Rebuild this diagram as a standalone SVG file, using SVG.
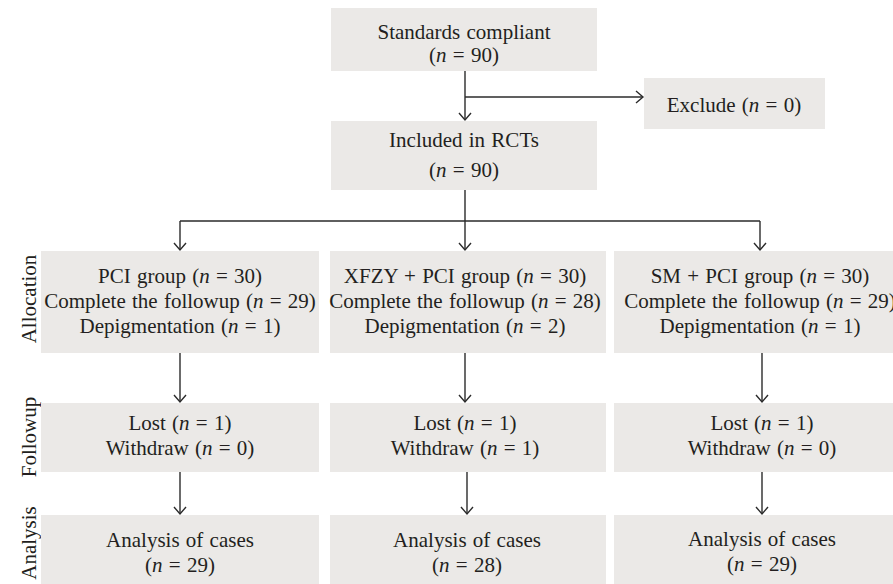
<svg xmlns="http://www.w3.org/2000/svg" width="893" height="584" viewBox="0 0 893 584">
<style>
.box{fill:#ebe9e7}
.t{font-family:"Liberation Serif","Times New Roman",serif;font-size:21px;fill:#231f20;text-anchor:middle;word-spacing:1px}
.i{font-style:italic}
.c{fill:none;stroke:#2b2b2b;stroke-width:1.4}
</style>
<defs>
<marker id="a" markerUnits="userSpaceOnUse" markerWidth="16" markerHeight="16" refX="0" refY="0" viewBox="-9 -8 10 16" orient="auto">
<path d="M-7,-6 L0,0 L-7,6" fill="none" stroke="#2b2b2b" stroke-width="1.4"/>
</marker>
</defs>
<rect width="893" height="584" fill="#fff"/>
<g id="labels">
<text class="t" transform="translate(36,299) rotate(-90)">Allocation</text>
<text class="t" transform="translate(36,437) rotate(-90)">Followup</text>
<text class="t" transform="translate(36,543) rotate(-90)">Analysis</text>
</g>
<g id="n-standards"><rect class="box" x="331" y="8" width="266" height="63"/>
<text class="t" x="464" y="39">Standards compliant</text>
<text class="t" x="464" y="62">(<tspan class="i">n</tspan> = 90)</text></g>
<g id="n-exclude"><rect class="box" x="644" y="78" width="181" height="51"/>
<text class="t" x="734" y="112">Exclude (<tspan class="i">n</tspan> = 0)</text></g>
<g id="n-included"><rect class="box" x="331" y="121" width="266" height="69"/>
<text class="t" x="464" y="147">Included in RCTs</text>
<text class="t" x="464" y="177">(<tspan class="i">n</tspan> = 90)</text></g>
<g id="n-pci"><rect class="box" x="41" y="251" width="278" height="102"/>
<text class="t" x="180" y="283">PCI group (<tspan class="i">n</tspan> = 30)</text>
<text class="t" x="180" y="308">Complete the followup (<tspan class="i">n</tspan> = 29)</text>
<text class="t" x="180" y="333">Depigmentation (<tspan class="i">n</tspan> = 1)</text></g>
<g id="n-xfzy"><rect class="box" x="330" y="251" width="276" height="102"/>
<text class="t" x="465" y="283">XFZY + PCI group (<tspan class="i">n</tspan> = 30)</text>
<text class="t" x="465" y="308">Complete the followup (<tspan class="i">n</tspan> = 28)</text>
<text class="t" x="465" y="333">Depigmentation (<tspan class="i">n</tspan> = 2)</text></g>
<g id="n-sm"><rect class="box" x="614" y="251" width="292" height="102"/>
<text class="t" x="760" y="283">SM + PCI group (<tspan class="i">n</tspan> = 30)</text>
<text class="t" x="760" y="308">Complete the followup (<tspan class="i">n</tspan> = 29)</text>
<text class="t" x="760" y="333">Depigmentation (<tspan class="i">n</tspan> = 1)</text></g>
<g id="n-f1"><rect class="box" x="41" y="403" width="278" height="69"/>
<text class="t" x="180" y="430">Lost (<tspan class="i">n</tspan> = 1)</text>
<text class="t" x="180" y="455">Withdraw (<tspan class="i">n</tspan> = 0)</text></g>
<g id="n-f2"><rect class="box" x="330" y="403" width="276" height="69"/>
<text class="t" x="465" y="430">Lost (<tspan class="i">n</tspan> = 1)</text>
<text class="t" x="465" y="455">Withdraw (<tspan class="i">n</tspan> = 1)</text></g>
<g id="n-f3"><rect class="box" x="614" y="403" width="292" height="69"/>
<text class="t" x="762" y="430">Lost (<tspan class="i">n</tspan> = 1)</text>
<text class="t" x="762" y="455">Withdraw (<tspan class="i">n</tspan> = 0)</text></g>
<g id="n-a1"><rect class="box" x="41" y="515" width="278" height="75"/>
<text class="t" x="180" y="547">Analysis of cases</text>
<text class="t" x="180" y="572">(<tspan class="i">n</tspan> = 29)</text></g>
<g id="n-a2"><rect class="box" x="330" y="515" width="276" height="75"/>
<text class="t" x="467" y="547">Analysis of cases</text>
<text class="t" x="467" y="572">(<tspan class="i">n</tspan> = 28)</text></g>
<g id="n-a3"><rect class="box" x="614" y="515" width="292" height="75"/>
<text class="t" x="762" y="546">Analysis of cases</text>
<text class="t" x="762" y="571">(<tspan class="i">n</tspan> = 29)</text></g>
<g id="connectors" class="c">
<path class="c" d="M465,71 V120" marker-end="url(#a)"/>
<path class="c" d="M465,97 H643" marker-end="url(#a)"/>
<path class="c" d="M465,190 V221 M180,221 H760"/>
<path class="c" d="M180,221 V250" marker-end="url(#a)"/>
<path class="c" d="M465,221 V250" marker-end="url(#a)"/>
<path class="c" d="M760,221 V250" marker-end="url(#a)"/>
<path class="c" d="M180,353 V402" marker-end="url(#a)"/>
<path class="c" d="M465,353 V402" marker-end="url(#a)"/>
<path class="c" d="M762,353 V402" marker-end="url(#a)"/>
<path class="c" d="M180,472 V514" marker-end="url(#a)"/>
<path class="c" d="M467,472 V514" marker-end="url(#a)"/>
<path class="c" d="M762,472 V514" marker-end="url(#a)"/>
</g>
</svg>
